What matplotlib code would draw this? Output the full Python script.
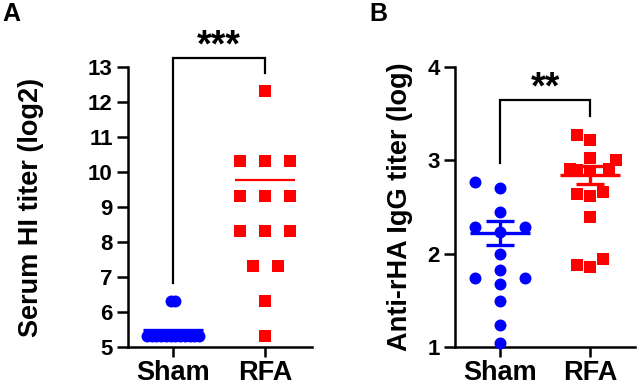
import numpy as np
import matplotlib
matplotlib.use("Agg")
import matplotlib.pyplot as plt

plt.rcParams['font.family'] = ['Liberation Sans', 'DejaVu Sans']
plt.rcParams['font.weight'] = 'bold'

# Data
groups = ["Sham", "RFA"]

# Panel A: serum HI titer (log2)
sham_hi = [5.32, 5.32, 5.32, 5.32, 5.32, 5.32, 5.32, 5.32, 5.32, 5.32, 5.32, 5.32, 6.32, 6.32]
rfa_hi = [12.32, 10.32, 10.32, 10.32, 9.32, 9.32, 9.32, 8.32, 8.32, 8.32, 7.32, 7.32, 6.32, 5.32]
mean_hi = [5.50, 9.77]
yticks_hi = [5, 6, 7, 8, 9, 10, 11, 12, 13]

# Panel B: anti-rHA IgG titer (log)
sham_igg = [2.77, 2.70, 2.45, 2.29, 2.29, 2.23, 2.00, 1.82, 1.74, 1.74, 1.68, 1.49, 1.24, 1.04]
rfa_igg = [3.27, 3.22, 3.02, 3.00, 2.91, 2.90, 2.91, 2.89, 2.66, 2.62, 2.64, 2.39, 1.94, 1.86, 1.88]
mean_igg = [2.22, 2.84]
sem_igg = [0.13, 0.095]
yticks_igg = [1, 2, 3, 4]

BLUE = "#0000ff"
RED = "#ff0000"


def swarm(ax, xc, vals, step_px, gap_px=11, half_px=26):
    # simple one-sided beeswarm, worked out in pixels
    vals = np.asarray(vals, dtype=float)
    yp = ax.transData.transform(np.column_stack([np.full(len(vals), xc), vals]))[:, 1]
    order = np.argsort(yp, kind="stable")
    slot = {}
    placed = []
    cands = [0]
    for n in range(1, 20):
        cands += [-n, n]
    for i in order:
        for k in cands:
            if all(slot[j] != k or abs(yp[i] - yp[j]) >= gap_px for j in placed):
                break
        slot[i] = k
        placed.append(i)
    offs = np.array([slot[i] * step_px for i in range(len(vals))], dtype=float)
    # centre rows of identical values
    for v in np.unique(vals):
        m = vals == v
        if m.sum() > 1:
            offs[m] -= offs[m].mean()
    mx = np.abs(offs).max()
    if mx > half_px:
        offs *= half_px / mx
    x0 = ax.transData.transform((xc, 0))[0]
    return ax.transData.inverted().transform(
        np.column_stack([x0 + offs, np.zeros(len(vals))]))[:, 0]


def style_axes(ax, yticks):
    for s in ["top", "right"]:
        ax.spines[s].set_visible(False)
    for s in ["left", "bottom"]:
        ax.spines[s].set_linewidth(1.8)
    ax.set_yticks(yticks)
    ax.set_xticks([1, 2])
    ax.set_xticklabels(groups, fontsize=19.5, fontweight="bold")
    ax.tick_params(axis="y", labelsize=16, width=1.8, length=8, pad=3)
    ax.tick_params(axis="x", width=1.8, length=7, pad=2)
    for t in ax.get_yticklabels():
        t.set_fontweight("bold")


fig = plt.figure(figsize=(6.39, 3.90), dpi=100)

# ---------------- Panel A ----------------
axA = fig.add_axes([128 / 639, 1 - 347 / 390, 184 / 639, 280 / 390])
axA.set_xlim(0.511, 2.51)
axA.set_ylim(5, 13)
style_axes(axA, yticks_hi)
axA.set_ylabel("Serum HI titer (log2)", fontsize=19.5, fontweight="bold")
axA.yaxis.set_label_coords(-0.455, 0.5)

xs = swarm(axA, 1, sham_hi, 25)
axA.plot(xs, sham_hi, "o", color=BLUE, ms=8.6, mew=0, clip_on=False, zorder=3)
xs = swarm(axA, 2, rfa_hi, 25)
axA.plot(xs, rfa_hi, "s", color=RED, ms=8.2, mew=0, clip_on=False, zorder=3)

axA.hlines(mean_hi[0], 1 - 0.33, 1 + 0.33, color=BLUE, lw=2.4, zorder=4)
axA.hlines(mean_hi[1], 2 - 0.33, 2 + 0.33, color=RED, lw=1.6, zorder=4)

axA.plot([1, 1, 2, 2], [6.83, 13.25, 13.25, 12.83], color="black", lw=1.6,
         clip_on=False, solid_joinstyle="miter")
axA.text(1.5, 13.6, "***", ha="center", va="center", fontsize=27, fontweight="bold")

# ---------------- Panel B ----------------
axB = fig.add_axes([455 / 639, 1 - 347 / 390, 180 / 639, 280 / 390])
axB.set_xlim(0.5, 2.5)
axB.set_ylim(1, 4)
style_axes(axB, yticks_igg)
axB.set_ylabel("Anti-rHA IgG titer (log)", fontsize=19.5, fontweight="bold")
axB.yaxis.set_label_coords(-0.233, 0.5)

xs = swarm(axB, 1, sham_igg, 25)
axB.plot(xs, sham_igg, "o", color=BLUE, ms=8.6, mew=0, clip_on=False, zorder=3)
xs = swarm(axB, 2, rfa_igg, 16.7)
axB.plot(xs, rfa_igg, "s", color=RED, ms=8.2, mew=0, clip_on=False, zorder=3)

for i, c in enumerate([BLUE, RED]):
    x = i + 1
    axB.hlines(mean_igg[i], x - 0.33, x + 0.33, color=c, lw=2.4, zorder=4)
    axB.vlines(x, mean_igg[i] - sem_igg[i], mean_igg[i] + sem_igg[i], color=c, lw=2.4, zorder=4)
    axB.hlines([mean_igg[i] - sem_igg[i], mean_igg[i] + sem_igg[i]],
               x - 0.16, x + 0.16, color=c, lw=2.4, zorder=4)

axB.plot([1, 1, 2, 2], [2.97, 3.65, 3.65, 3.47], color="black", lw=1.6,
         clip_on=False, solid_joinstyle="miter")
axB.text(1.5, 3.77, "**", ha="center", va="center", fontsize=27, fontweight="bold")

# panel letters
fig.text(0.004, 0.995, "A", fontsize=18, fontweight="bold", va="top", ha="left")
fig.text(369 / 639, 0.995, "B", fontsize=18, fontweight="bold", va="top", ha="left")

fig.savefig("out.png", dpi=100)
